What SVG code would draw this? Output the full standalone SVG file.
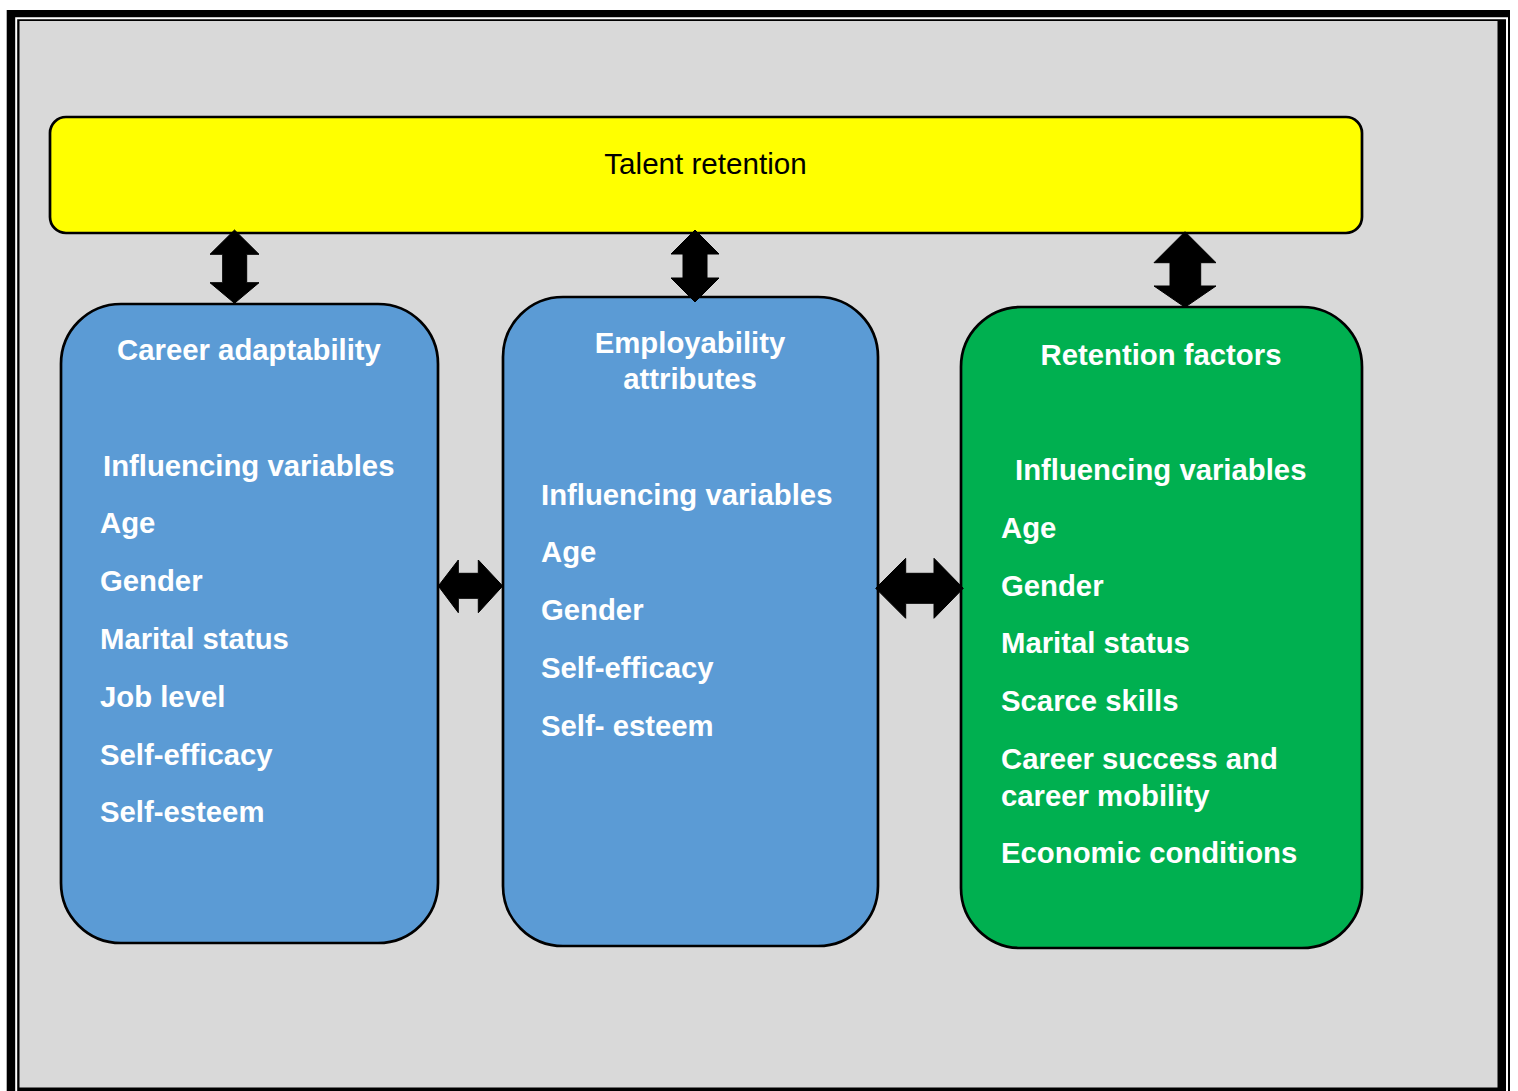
<svg xmlns="http://www.w3.org/2000/svg" width="1518" height="1091" viewBox="0 0 1518 1091">
<style>
.box{stroke:#000;stroke-width:2.7}
.t{font-family:"Liberation Sans",Arial,sans-serif;font-size:29.3px;font-weight:bold;fill:#fff}
.c{text-anchor:middle}
.arr{fill:#000;stroke:#000;stroke-width:1}
</style>
<rect x="0" y="0" width="1518" height="1091" fill="#fff"/>
<rect x="6.7" y="10" width="1503.3" height="1081" fill="#000"/>
<path d="M16.2 1091 V18.3 H1507 V1091" fill="none" stroke="#fff" stroke-width="2"/>
<rect x="19.5" y="21" width="1478" height="1066.5" fill="#d9d9d9"/>

<g id="talent-retention">
<rect class="box" x="50" y="117" width="1312" height="116" rx="16" fill="#ffff00"/>
<text x="705.5" y="173.5" text-anchor="middle" font-family="'Liberation Sans',Arial,sans-serif" font-size="29.6" fill="#000">Talent retention</text>
</g>

<g id="career-adaptability">
<rect class="box" x="61" y="304" width="377" height="639" rx="60" fill="#5b9bd5"/>
<text class="t c" x="249" y="360">Career adaptability</text>
<text class="t" x="103" y="476">Influencing variables</text>
<text class="t" x="100" y="533">Age</text>
<text class="t" x="100" y="591">Gender</text>
<text class="t" x="100" y="649">Marital status</text>
<text class="t" x="100" y="707">Job level</text>
<text class="t" x="100" y="765">Self-efficacy</text>
<text class="t" x="100" y="822">Self-esteem</text>
</g>

<g id="employability-attributes">
<rect class="box" x="503" y="297" width="375" height="649" rx="60" fill="#5b9bd5"/>
<text class="t c" x="690" y="353">Employability</text>
<text class="t c" x="690" y="389">attributes</text>
<text class="t" x="541" y="505">Influencing variables</text>
<text class="t" x="541" y="562">Age</text>
<text class="t" x="541" y="620">Gender</text>
<text class="t" x="541" y="678">Self-efficacy</text>
<text class="t" x="541" y="736">Self- esteem</text>
</g>

<g id="retention-factors">
<rect class="box" x="961" y="307" width="401" height="641" rx="60" fill="#00b050"/>
<text class="t c" x="1161" y="365">Retention factors</text>
<text class="t" x="1015" y="480">Influencing variables</text>
<text class="t" x="1001" y="538">Age</text>
<text class="t" x="1001" y="596">Gender</text>
<text class="t" x="1001" y="653">Marital status</text>
<text class="t" x="1001" y="711">Scarce skills</text>
<text class="t" x="1001" y="769">Career success and</text>
<text class="t" x="1001" y="806">career mobility</text>
<text class="t" x="1001" y="863">Economic conditions</text>
</g>

<g id="connectors">
<path class="arr" d="M234.5 230 L259 254.3 H246.7 V282.7 H259 L234.5 303.3 L210 282.7 H222.7 V254.3 H210 Z"/>
<path class="arr" d="M695 230 L719 254 H707 V278 H719 L695 302 L671 278 H683 V254 H671 Z"/>
<path class="arr" d="M1185 231.7 L1216 262.7 H1200.7 V286 H1216 L1185 307.3 L1154 286 H1170 V262.7 H1154 Z"/>
<path class="arr" d="M438.3 586 L458.3 560 V573.3 H478.3 V560 L502.7 586 L478.3 612.7 V598.3 H458.3 V612.7 Z"/>
<path class="arr" d="M875.7 588.3 L905.7 558.3 V573.3 H934 V558.3 L963.3 588.3 L934 618.3 V603.3 H905.7 V618.3 Z"/>
</g>
</svg>
